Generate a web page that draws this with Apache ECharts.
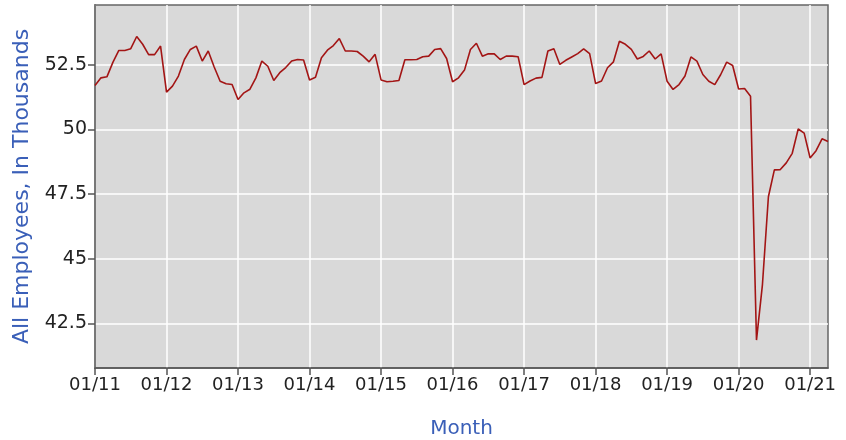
<!DOCTYPE html>
<html>
<head>
<meta charset="utf-8">
<script src="https://cdn.jsdelivr.net/npm/echarts@6/dist/echarts.min.js"></script>
<style>
html,body{margin:0;padding:0;background:#fff;}
#chart{width:846px;height:440px;}
</style>
</head>
<body>
<div id="chart"></div>
<script>
// Monthly values, 2011-01 .. 2021-04 (thousands)
const values2011 = [51.70, 52.00, 52.04, 52.60, 53.06, 53.06, 53.13, 53.60, 53.30, 52.90, 52.90, 53.23];
const values2012 = [51.45, 51.68, 52.07, 52.71, 53.10, 53.23, 52.65, 53.04, 52.42, 51.87, 51.77, 51.74];
const values2013 = [51.16, 51.42, 51.56, 52.00, 52.65, 52.45, 51.90, 52.20, 52.40, 52.65, 52.71, 52.69];
const values2014 = [51.92, 52.02, 52.78, 53.07, 53.25, 53.52, 53.04, 53.04, 53.02, 52.84, 52.62, 52.91];
const values2015 = [51.92, 51.85, 51.87, 51.90, 52.70, 52.70, 52.71, 52.82, 52.84, 53.10, 53.13, 52.75];
const values2016 = [51.85, 52.00, 52.30, 53.10, 53.34, 52.84, 52.93, 52.93, 52.71, 52.84, 52.84, 52.82];
const values2017 = [51.74, 51.88, 51.99, 52.02, 53.04, 53.13, 52.52, 52.68, 52.81, 52.94, 53.12, 52.94];
const values2018 = [51.78, 51.88, 52.39, 52.62, 53.42, 53.30, 53.10, 52.73, 52.83, 53.04, 52.73, 52.93];
const values2019 = [51.87, 51.55, 51.74, 52.07, 52.81, 52.65, 52.13, 51.87, 51.74, 52.13, 52.61, 52.48];
const values2020 = [51.57, 51.59, 51.29, 41.85, 44.00, 47.40, 48.44, 48.45, 48.71, 49.08, 50.02, 49.86];
const values2021 = [48.90, 49.18, 49.64, 49.54];

const yTickValues = [42.5, 45, 47.5, 50, 52.5];
const years = [2011, 2012, 2013, 2014, 2015, 2016, 2017, 2018, 2019, 2020, 2021];

const values = [].concat(values2011, values2012, values2013, values2014, values2015,
  values2016, values2017, values2018, values2019, values2020, values2021);

const months = [];
for (let i = 0; i < values.length; i++) {
  const y = years[0] + Math.floor(i / 12);
  const m = (i % 12) + 1;
  months.push((m < 10 ? '0' + m : '' + m) + '/' + String(y).slice(2));
}

const chart = echarts.init(document.getElementById('chart'), null, {renderer: 'canvas'});
const font = 'DejaVu Sans';
chart.setOption({
  animation: false,
  backgroundColor: '#ffffff',
  grid: {
    left: 95, right: 18, top: 5, bottom: 72,
    outerBoundsMode: 'none',
    show: true, backgroundColor: '#d9d9d9', borderColor: '#666666', borderWidth: 1.5
  },
  xAxis: {
    type: 'category',
    data: months,
    boundaryGap: false,
    name: 'Month',
    nameLocation: 'middle',
    nameGap: 51,
    nameTextStyle: {color: '#3a5fb8', fontFamily: font, fontSize: 20},
    axisLine: {show: true, lineStyle: {color: '#555555', width: 1.5}},
    axisTick: {show: true, interval: 11, length: 7, lineStyle: {color: '#555555', width: 1.5}},
    axisLabel: {interval: 11, color: '#222222', fontFamily: font, fontSize: 18, margin: 8},
    splitLine: {show: true, interval: 11, lineStyle: {color: '#ffffff', width: 1.5}}
  },
  yAxis: {
    type: 'value',
    min: 40.77,
    max: 54.82,
    name: 'All Employees, In Thousands',
    nameLocation: 'middle',
    nameGap: 62,
    nameTextStyle: {color: '#3a5fb8', fontFamily: font, fontSize: 22},
    axisLine: {show: true, lineStyle: {color: '#555555', width: 1.5}},
    axisTick: {show: true, length: 7, customValues: yTickValues, lineStyle: {color: '#555555', width: 1.5}},
    axisLabel: {customValues: yTickValues, color: '#222222', fontFamily: font, fontSize: 19, margin: 8},
    splitLine: {show: true, lineStyle: {color: '#ffffff', width: 1.5}}
  },
  series: [{
    type: 'line',
    data: values,
    showSymbol: false,
    symbol: 'none',
    lineStyle: {color: '#a31515', width: 1.6}
  }]
});
</script>
</body>
</html>
